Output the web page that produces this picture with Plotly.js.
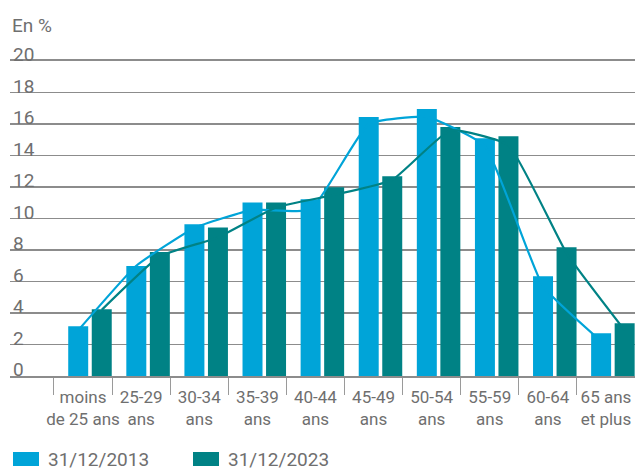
<!DOCTYPE html>
<html>
<head>
<meta charset="utf-8">
<script src="https://cdn.plot.ly/plotly-3.0.1.min.js"></script>
<style>
  html, body { margin: 0; padding: 0; background: #fff; }
  #chart { width: 635px; height: 469px; }
</style>
</head>
<body>
<div id="chart"></div>
<script>
const config = {
    responsive: false,
    displayModeBar: false,
    staticPlot: true
}

// Tranches d'âge
const tranches = ['moins<br>de 25 ans', '25-29<br>ans', '30-34<br>ans', '35-39<br>ans', '40-44<br>ans',
    '45-49<br>ans', '50-54<br>ans', '55-59<br>ans', '60-64<br>ans', '65 ans<br>et plus'];

// Séries (barres), en %
const nom2013 = '31/12/2013';
const nom2023 = '31/12/2023';
const barres2013 = [3.16, 6.99, 9.64, 11.02, 11.23, 16.44, 16.95, 15.09, 6.34, 2.71];
const barres2023 = [4.24, 7.88, 9.43, 11.02, 11.99, 12.69, 15.81, 15.23, 8.18, 3.35];

// Courbes
const courbe2013 = [2.9, 7.0, 9.4, 10.55, 10.55, 16.0, 16.45, 14.6, 5.7, 2.2];
const courbe2023 = [4.2, 7.6, 8.8, 10.7, 11.5, 12.45, 15.6, 14.65, 7.8, 2.9];

const yTicks = [0, 2, 4, 6, 8, 10, 12, 14, 16, 18, 20];

const bleu = '#00a4d8';
const vert = '#008285';
const gris = '#6f6f6f';
const grille = '#8c8c8c';
const police = 'Roboto, "Noto Sans", sans-serif';

const largeur = 0.344;
const xRange = [-1.257, 9.5];

var bar2013 = {
    x: tranches,
    y: barres2013,
    type: 'bar',
    name: nom2013,
    width: largeur,
    offset: -0.255,
    marker: { color: bleu },
    showlegend: false
}

var bar2023 = {
    x: tranches,
    y: barres2023,
    type: 'bar',
    name: nom2023,
    width: largeur,
    offset: 0.15,
    marker: { color: vert },
    showlegend: false
}

// Courbes placées au centre de chaque barre (axes superposés décalés)
var ligne2013 = {
    x: tranches,
    y: courbe2013,
    xaxis: 'x2',
    mode: 'lines',
    type: 'scatter',
    line: { color: bleu, width: 2.2, shape: 'spline', smoothing: 0.4 },
    showlegend: false
}

var ligne2023 = {
    x: tranches,
    y: courbe2023,
    xaxis: 'x3',
    mode: 'lines',
    type: 'scatter',
    line: { color: vert, width: 2.2, shape: 'spline', smoothing: 0.4 },
    showlegend: false
}

const decal2013 = -0.255 + largeur / 2;
const decal2023 = 0.15 + largeur / 2;

function axeCache(decal) {
    return {
        type: 'category',
        overlaying: 'x',
        categoryorder: 'array',
        categoryarray: tranches,
        range: [xRange[0] - decal, xRange[1] - decal],
        visible: false,
        fixedrange: true
    }
}

// Légende dessinée à la main
const legende = [
    { nom: nom2013, couleur: bleu, x0: 13, texte: 46 },
    { nom: nom2023, couleur: vert, x0: 193, texte: 226 }
];
const W = 625, H = 315, L = 10, B = 376;
const shapes = legende.map(l => ({
    type: 'rect', xref: 'paper', yref: 'paper',
    x0: (l.x0 - L) / W, x1: (l.x0 + 26 - L) / W,
    y0: (B - 466) / H, y1: (B - 452) / H,
    fillcolor: l.couleur, line: { width: 0 }
}));
const annotations = legende.map(l => ({
    xref: 'paper', yref: 'paper',
    x: (l.texte - L) / W, y: (B - 459) / H,
    xanchor: 'left', yanchor: 'middle',
    height: 18,
    text: l.nom, showarrow: false,
    font: { family: police, size: 19, color: gris }
}));
annotations.push({
    xref: 'paper', yref: 'paper',
    x: 0, y: (B - 26) / H,
    xanchor: 'left', yanchor: 'middle',
    text: 'En %', showarrow: false,
    font: { family: police, size: 19, color: gris }
});

const layout = {
    width: 635,
    height: 469,
    margin: { l: 10, r: 0, t: 61, b: 93 },
    paper_bgcolor: '#fff',
    plot_bgcolor: '#fff',
    font: { family: police, color: gris, size: 18 },
    barmode: 'overlay',
    showlegend: false,
    xaxis: {
        type: 'category',
        categoryorder: 'array',
        categoryarray: tranches,
        range: xRange,
        showgrid: false,
        zeroline: false,
        showline: true,
        mirror: true,
        linecolor: grille,
        linewidth: 1.6,
        ticks: 'outside',
        tickson: 'boundaries',
        tickangle: 0,
        ticklen: 17,
        tickwidth: 1,
        tickcolor: '#9a9a9a',
        ticklabelstandoff: 5,
        tickfont: { family: police, size: 17, color: gris },
        fixedrange: true
    },
    xaxis2: axeCache(decal2013),
    xaxis3: axeCache(decal2023),
    yaxis: {
        range: [0, 20],
        tickvals: yTicks,
        ticktext: yTicks.map(String),
        showgrid: true,
        gridcolor: grille,
        gridwidth: 1.6,
        zeroline: false,
        showline: false,
        ticks: '',
        ticklabelposition: 'inside top',
        ticklabeloverflow: 'allow',
        ticklabelshift: 7,
        tickfont: { family: police, size: 19, color: gris },
        fixedrange: true
    },
    shapes: shapes,
    annotations: annotations
};

Plotly.newPlot('chart', [bar2013, bar2023, ligne2013, ligne2023], layout, config);
</script>
</body>
</html>
